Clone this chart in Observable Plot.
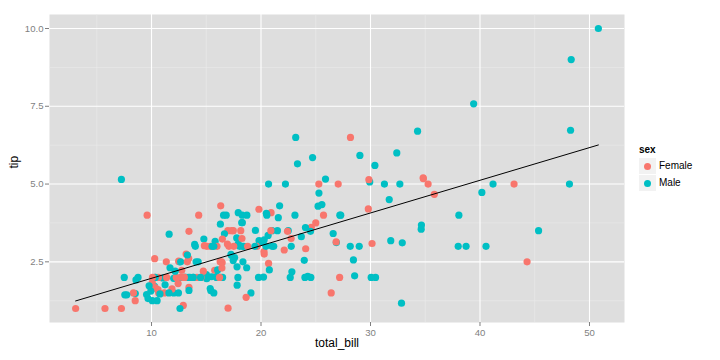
<!DOCTYPE html>
<html>
<head>
<meta charset="utf-8">
<script src="https://cdn.jsdelivr.net/npm/d3@7"></script>
<script src="https://cdn.jsdelivr.net/npm/@observablehq/plot@0.6"></script>
<style>
  html, body { margin: 0; padding: 0; background: #fff; }
  #wrap { position: relative; width: 720px; height: 360px; font-family: "Liberation Sans", Arial, sans-serif; }
  #legend { position: absolute; left: 639px; top: 143px; font-size: 10px; color: #000; }
  #legend .title { font-weight: bold; font-size: 10px; height: 14px; line-height: 14px; }
  #legend .row { display: flex; align-items: center; height: 17px; }
  #legend .key { width: 17px; height: 16px; background: #F2F2F2; position: relative; margin-right: 3px; }
  #legend .dot { position: absolute; left: 5px; top: 5px; width: 7px; height: 7px; border-radius: 50%; }
</style>
</head>
<body>
<div id="wrap"></div>
<script>
const totalBill = [16.99,10.34,21.01,23.68,24.59,25.29,8.77,26.88,15.04,14.78,10.27,35.26,15.42,18.43,14.83,21.58,10.33,16.29,16.97,20.65,17.92,20.29,15.77,39.42,19.82,17.81,13.37,12.69,21.7,19.65,9.55,18.35,15.06,20.69,17.78,24.06,16.31,16.93,18.69,31.27,16.04,17.46,13.94,9.68,30.4,18.29,22.23,32.4,28.55,18.04,12.54,10.29,34.81,9.94,25.56,19.49,38.01,26.41,11.24,48.27,20.29,13.81,11.02,18.29,17.59,20.08,16.45,3.07,20.23,15.01,12.02,17.07,26.86,25.28,14.73,10.51,17.92,27.2,22.76,17.29,19.44,16.66,10.07,32.68,15.98,34.83,13.03,18.28,24.71,21.16,28.97,22.49,5.75,16.32,22.75,40.17,27.28,12.03,21.01,12.46,11.35,15.38,44.3,22.42,20.92,15.36,20.49,25.21,18.24,14.31,14.0,7.25,38.07,23.95,25.71,17.31,29.93,10.65,12.43,24.08,11.69,13.42,14.26,15.95,12.48,29.8,8.52,14.52,11.38,22.82,19.08,20.27,11.17,12.26,18.26,8.51,10.33,14.15,16.0,13.16,17.47,34.3,41.19,27.05,16.43,8.35,18.64,11.87,9.78,7.51,14.07,13.13,17.26,24.55,19.77,29.85,48.17,25.0,13.39,16.49,21.5,12.66,16.21,13.81,17.51,24.52,20.76,31.71,10.59,10.63,50.81,15.81,7.25,31.85,16.82,32.9,17.89,14.48,9.6,34.63,34.65,23.33,45.35,23.17,40.55,20.69,20.9,30.46,18.15,23.1,15.69,19.81,28.44,15.48,16.58,7.56,10.34,43.11,13.0,13.51,18.71,12.74,13.0,16.4,20.53,16.47,26.59,38.73,24.27,12.76,30.06,25.89,48.33,13.27,28.17,12.9,28.15,11.59,7.74,30.14,12.16,13.42,8.58,15.98,13.42,16.27,10.09,20.45,13.28,22.12,24.01,15.69,11.61,10.77,15.53,10.07,12.6,32.83,35.83,29.03,27.18,22.67,17.82,18.78];
const tip = [1.01,1.66,3.5,3.31,3.61,4.71,2.0,3.12,1.96,3.23,1.71,5.0,1.57,3.0,3.02,3.92,1.67,3.71,3.5,3.35,4.08,2.75,2.23,7.58,3.18,2.34,2.0,2.0,4.3,3.0,1.45,2.5,3.0,2.45,3.27,3.6,2.0,3.07,2.31,5.0,2.24,2.54,3.06,1.32,5.6,3.0,5.0,6.0,2.05,3.0,2.5,2.6,5.2,1.56,4.34,3.51,3.0,1.5,1.76,6.73,3.21,2.0,1.98,3.76,2.64,3.15,2.47,1.0,2.01,2.09,1.97,3.0,3.14,5.0,2.2,1.25,3.08,4.0,3.0,2.71,3.0,3.4,1.83,5.0,2.03,5.17,2.0,4.0,5.85,3.0,3.0,3.5,1.0,4.3,3.25,4.73,4.0,1.5,3.0,1.5,2.5,3.0,2.5,3.48,4.08,1.64,4.06,4.29,3.76,4.0,3.0,1.0,4.0,2.55,4.0,3.5,5.07,1.5,1.8,2.92,2.31,1.68,2.5,2.0,2.52,4.2,1.48,2.0,2.0,2.18,1.5,2.83,1.5,2.0,3.25,1.25,2.0,2.0,2.0,2.75,3.5,6.7,5.0,5.0,2.3,1.5,1.36,1.63,1.73,2.0,2.5,2.0,2.74,2.0,2.0,5.14,5.0,3.75,2.61,2.0,3.5,2.5,2.0,2.0,3.0,3.48,2.24,4.5,1.61,2.0,10.0,3.16,5.15,3.18,4.0,3.11,2.0,2.0,4.0,3.55,3.68,5.65,3.5,6.5,3.0,5.0,3.5,2.0,3.5,4.0,1.5,4.19,2.56,2.02,4.0,1.44,2.0,5.0,2.0,2.0,4.0,2.01,2.0,2.5,4.0,3.23,3.41,3.0,2.03,2.23,2.0,5.16,9.0,2.5,6.5,1.1,3.0,1.5,1.44,3.09,2.2,3.48,1.92,3.0,1.58,2.5,2.0,3.0,2.72,2.88,2.0,3.0,3.39,1.47,3.0,1.25,1.0,1.17,4.67,5.92,2.0,2.0,1.75,3.0];
// F = Female, M = Male, in row order (groups of ten)
const sexCode = [
  "FMMMFMMMMM","MFMMFMFMFM","MFFMMMMMMF","MMFFMMMFMM","MMMMMMMMMM",
  "MFFMMMMFMM","MMMMMMFFMM","MFFFFMMMMM","MMFMMFMMMM","MMFFFMMMMM",
  "FFFFFMMMMF","MFMMFFMFFF","MFMMFFMFFM","MFFFFFFFMF","FMMFFFFFMM",
  "MMMMMFMFFM","MMFMFMMMFF","MMMMMMMMFM","MMMMMMFMFM","MFMMMMMFFM",
  "MFFFMFMMMF","MMMFFFMMMF","MFMFMFFMMF","MMMMMMMMFM","FMMF"
].join("");
const sexCategories = ["Female", "Male"];
const sexColors = ["#F8766D", "#00BFC4"];
const xMajor = [10, 20, 30, 40, 50];
const xMinor = [5, 15, 25, 35, 45];
const yMajor = [2.5, 5.0, 7.5, 10.0];
const yMinor = [1.25, 3.75, 6.25, 8.75];
const yTickLabels = ["2.5", "5.0", "7.5", "10.0"];

const tips = totalBill.map((b, i) => ({
  total_bill: b,
  tip: tip[i],
  sex: sexCode[i] === "F" ? "Female" : "Male"
}));

const plot = Plot.plot({
  width: 720,
  height: 360,
  marginLeft: 49,
  marginRight: 96,
  marginTop: 14,
  marginBottom: 38,
  style: { fontFamily: "Liberation Sans, Arial, sans-serif", fontSize: "9.6px", background: "white" },
  x: { domain: [0.683, 53.197] },
  y: { domain: [0.55, 10.45] },
  color: { domain: sexCategories, range: sexColors },
  marks: [
    Plot.frame({ fill: "#DEDEDE", stroke: null }),
    Plot.ruleX(xMinor, { stroke: "#EBEBEB", strokeWidth: 0.6 }),
    Plot.ruleY(yMinor, { stroke: "#EBEBEB", strokeWidth: 0.6 }),
    Plot.ruleX(xMajor, { stroke: "white", strokeWidth: 1.1 }),
    Plot.ruleY(yMajor, { stroke: "white", strokeWidth: 1.1 }),
    Plot.axisX({ ticks: xMajor, tickSize: 4, tickPadding: 3, color: "#7F7F7F", label: null }),
    Plot.axisY({ ticks: yMajor, tickSize: 4, tickPadding: 2, color: "#7F7F7F", label: null,
      tickFormat: (d) => yTickLabels[yMajor.indexOf(d)] }),
    Plot.dot(tips, { x: "total_bill", y: "tip", fill: "sex", r: 3.6, stroke: null }),
    Plot.linearRegressionY(tips, { x: "total_bill", y: "tip", stroke: "black", strokeWidth: 1, ci: 0 }),
    Plot.text(["total_bill"], { frameAnchor: "bottom", dy: 24, text: (d) => d, fontSize: 12, fill: "black" }),
    Plot.text(["tip"], { frameAnchor: "left", dx: -35, rotate: -90, text: (d) => d, fontSize: 12, fill: "black" })
  ]
});

const wrap = document.getElementById("wrap");
wrap.appendChild(plot);

const legend = document.createElement("div");
legend.id = "legend";
let html = '<div class="title">sex</div>';
sexCategories.forEach((c, i) => {
  html += `<div class="row"><div class="key"><div class="dot" style="background:${sexColors[i]}"></div></div><span>${c}</span></div>`;
});
legend.innerHTML = html;
wrap.appendChild(legend);
</script>
</body>
</html>
